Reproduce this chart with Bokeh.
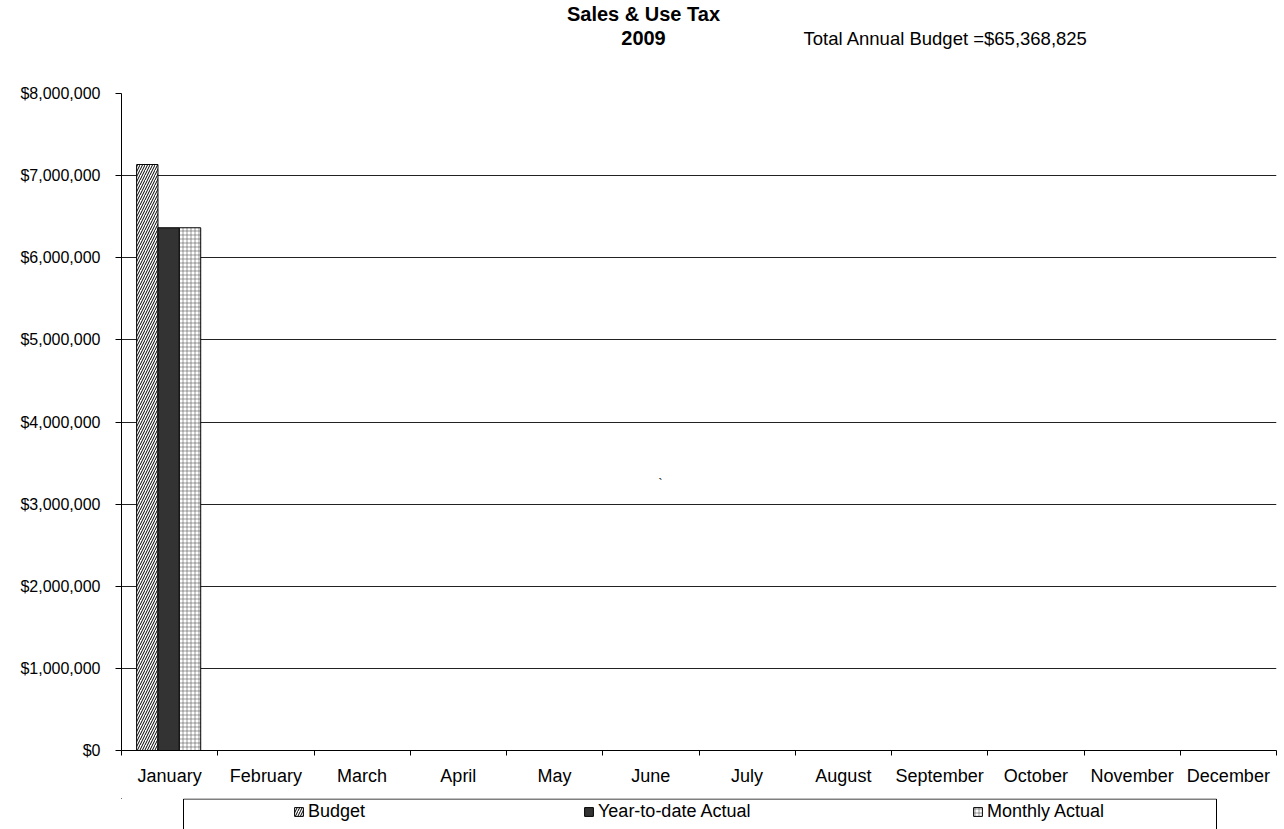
from bokeh.plotting import figure
from bokeh.models import (FixedTicker, NumeralTickFormatter, Legend, LegendItem,
                          BoxAnnotation, Range1d, ColumnDataSource)
from bokeh.layouts import column
from bokeh.core.properties import value
from bokeh.embed import file_html
from bokeh.resources import INLINE

months = ["January", "February", "March", "April", "May", "June", "July",
          "August", "September", "October", "November", "December"]
budget = [7135000] + [None] * 11
ytd_actual = [6365000] + [None] * 11
monthly_actual = [6365000] + [None] * 11
y_ticks = [0, 1000000, 2000000, 3000000, 4000000, 5000000, 6000000, 7000000, 8000000]
series_names = ["Budget", "Year-to-date Actual", "Monthly Actual"]
title_lines = ["Sales & Use Tax", "2009"]
annual_note = "Total Annual Budget  =$65,368,825"
stray_mark = "`"

FONT = "Liberation Sans"
W = 1284
LEFT = 121     # frame left edge (page px)
RIGHT = 1276   # frame right edge (page px)
HEADER_H = 60
LEGEND_H = 31

def nan(v):
    return float("nan") if v is None else v

def strip(height):
    f = figure(width=W, height=height, output_backend="svg", toolbar_location=None,
               x_range=Range1d(LEFT, RIGHT), y_range=Range1d(height, 0),
               x_axis_type=None, y_axis_type=None,
               min_border_left=LEFT, min_border_right=W - RIGHT,
               min_border_top=0, min_border_bottom=0,
               frame_width=RIGHT - LEFT, frame_height=height)
    f.outline_line_color = None
    return f

# ---------------- header (titles) ----------------
hdr = strip(HEADER_H)
hdr.text(x=[643, 643], y=[13, 37], text=title_lines, text_align="center",
         text_baseline="middle", text_font=value(FONT), text_font_size="20px",
         text_font_style="bold", text_color="black")
hdr.text(x=[803], y=[38], text=[annual_note], text_align="left", text_baseline="middle",
         text_font=value(FONT), text_font_size="18.5px", text_color="black")

# ---------------- main chart ----------------
idx = list(range(len(months)))
bw = 0.222
src = ColumnDataSource(dict(
    xb=[i + 0.49 - bw for i in idx],
    xy=[i + 0.49 for i in idx],
    xm=[i + 0.49 + bw for i in idx],
    budget=[nan(v) for v in budget],
    ytd=[nan(v) for v in ytd_actual],
    monthly=[nan(v) for v in monthly_actual],
))

FRAME_TOP = 93 - HEADER_H
FRAME_H = 657
FRAME_BOTTOM_BORDER = 798 - 750
p = figure(width=W, height=FRAME_TOP + FRAME_H + FRAME_BOTTOM_BORDER,
           output_backend="svg", toolbar_location=None,
           x_range=Range1d(0, len(months)), y_range=Range1d(0, 8000000),
           min_border_left=LEFT, min_border_right=W - RIGHT, min_border_top=FRAME_TOP,
           min_border_bottom=FRAME_BOTTOM_BORDER, frame_width=RIGHT - LEFT, frame_height=FRAME_H)
p.outline_line_color = None
p.background_fill_color = "white"

budget_style = dict(fill_color="white", line_color="black", line_width=1, hatch_pattern="/",
                    hatch_color="black", hatch_scale=5, hatch_weight=1)
ytd_style = dict(fill_color="#333333", line_color="black", line_width=1)
monthly_style = dict(fill_color="white", line_color="black", line_width=1, hatch_pattern="+",
                     hatch_color="#555555", hatch_scale=4, hatch_weight=0.6)

p.vbar(x="xb", top="budget", width=bw, source=src, **budget_style)
p.vbar(x="xy", top="ytd", width=bw, source=src, **ytd_style)
p.vbar(x="xm", top="monthly", width=bw, source=src, **monthly_style)

# stray backtick in the plot area
p.text(x=[5.6], y=[3240000], text=[stray_mark], text_align="center", text_baseline="middle",
       text_font=value(FONT), text_font_size="12px", text_color="black")

p.xgrid.visible = False
p.ygrid.ticker = FixedTicker(ticks=y_ticks)
p.ygrid.grid_line_color = "#222222"
p.ygrid.grid_line_width = 1

p.yaxis.ticker = FixedTicker(ticks=y_ticks)
p.yaxis.formatter = NumeralTickFormatter(format="$0,0")
p.yaxis.major_tick_out = 6
p.yaxis.major_tick_in = 0
p.yaxis.minor_tick_out = 0
p.yaxis.minor_tick_in = 0
p.yaxis.major_label_standoff = 15
p.yaxis.major_label_text_font = FONT
p.yaxis.major_label_text_font_size = "16px"
p.yaxis.major_label_text_color = "black"
p.yaxis.axis_line_color = "black"

p.xaxis.ticker = FixedTicker(ticks=[i + 0.5 for i in idx], minor_ticks=list(range(len(months) + 1)))
p.xaxis.major_label_overrides = {i + 0.5: m for i, m in enumerate(months)}
p.xaxis.major_tick_out = 0
p.xaxis.major_tick_in = 0
p.xaxis.minor_tick_out = 5
p.xaxis.minor_tick_in = 0
p.xaxis.major_label_standoff = 10
p.xaxis.major_label_text_font = FONT
p.xaxis.major_label_text_font_size = "18px"
p.xaxis.major_label_text_color = "black"
p.xaxis.axis_line_color = "black"

# ---------------- legend strip ----------------
lg = strip(LEGEND_H)
lg.add_layout(BoxAnnotation(left=183, right=1216, top=0.5, bottom=LEGEND_H + 10,
                            fill_alpha=0, line_color="black", line_alpha=1, line_width=1))
# key renderers (placed outside the visible range; only their legend keys show)
dummy = [lg.vbar(x=[-1000], top=[0], width=1, **budget_style),
         lg.vbar(x=[-1000], top=[0], width=1, **ytd_style),
         lg.vbar(x=[-1000], top=[0], width=1, **monthly_style)]
glyph_left = [293, 583, 972]
for r, lab, gx in zip(dummy, series_names, glyph_left):
    leg = Legend(items=[LegendItem(label=lab, renderers=[r])], location=(gx - LEFT, 7),
                 orientation="horizontal", padding=0, margin=0, spacing=0,
                 glyph_width=11, glyph_height=11, label_standoff=4, label_height=22,
                 label_text_font=FONT, label_text_font_size="18px", label_text_color="black",
                 label_text_baseline="middle",
                 border_line_alpha=0, background_fill_alpha=0)
    lg.add_layout(leg, "center")

layout = column(hdr, p, lg, spacing=0)
open("out.html", "w").write(file_html(layout, INLINE))
